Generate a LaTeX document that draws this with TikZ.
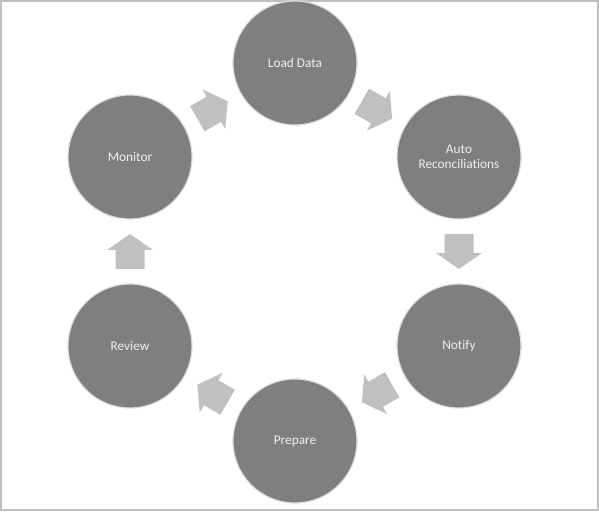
\documentclass[tikz,border=0pt]{standalone}
\usepackage{fontspec}
\setmainfont[Ligatures=CommonOff]{Carlito}
\definecolor{circfill}{HTML}{7F7F7F}
\definecolor{circedge}{HTML}{D5E0E0}
\definecolor{arrowfill}{HTML}{C0C0C0}
\definecolor{framecol}{HTML}{BFBFBF}
\begin{document}
\begin{tikzpicture}[x=1pt,y=1pt,
  stage/.style={circle,fill=circfill,draw=circedge,line width=1.2pt,minimum size=124pt,inner sep=0pt,
    text=white!94!black,font=\fontsize{13.3}{15}\selectfont,align=center},
  blockarrow/.style={fill=arrowfill,draw=none}]
\useasboundingbox (0,0) rectangle (599,511);
\draw[framecol,line width=2pt] (1,1) rectangle (598,510);
\node[stage] (load) at (295,448) {Load Data};
\node[stage] (auto) at (459,354) {Auto\\Reconciliations};
\node[stage] (notify) at (459,165) {Notify};
\node[stage] (prep) at (295,70) {Prepare};
\node[stage] (review) at (130,165) {Review};
\node[stage] (monitor) at (130,354) {Monitor};
\foreach \a/\b/\ang in {monitor/load/30,load/auto/-30,auto/notify/-90,notify/prep/210,prep/review/150,review/monitor/90}{
  \path (\a.center) -- (\b.center) coordinate[pos=0.5] (m-\a);
  \fill[blockarrow,shift={(m-\a)},rotate=\ang]
    (-17.5,-14.5) -- (1.5,-14.5) -- (1.5,-23) -- (17.5,0) -- (1.5,23) -- (1.5,14.5) -- (-17.5,14.5) -- cycle;
}
\end{tikzpicture}
\end{document}
